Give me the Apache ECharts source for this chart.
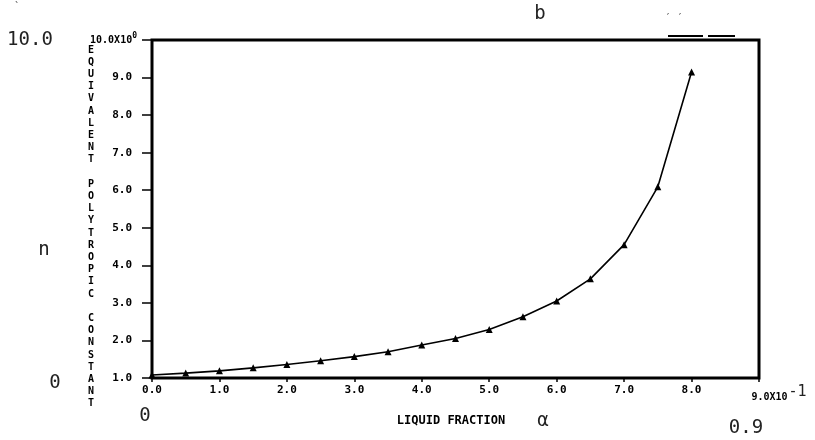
<!DOCTYPE html>
<html>
<head>
<meta charset="utf-8">
<script src="https://cdn.jsdelivr.net/npm/echarts@6/dist/echarts.min.js"></script>
<style>
  html, body { margin: 0; padding: 0; background: #fff; }
  #chart { width: 815px; height: 440px; }
</style>
</head>
<body>
<div id="chart"></div>
<script>
// liquid fraction (x 10^-1) and equivalent polytropic constant
const liquidFraction = [0, 0.5, 1.0, 1.5, 2.0, 2.5, 3.0, 3.5, 4.0, 4.5, 5.0, 5.5, 6.0, 6.5, 7.0, 7.5, 8.0]
const polyConstant = [1.08, 1.13, 1.19, 1.27, 1.36, 1.46, 1.57, 1.70, 1.88, 2.05, 2.29, 2.63, 3.05, 3.64, 4.55, 6.09, 9.15]
const xTickLabels = ['0.0', '1.0', '2.0', '3.0', '4.0', '5.0', '6.0', '7.0', '8.0', '9.0X10']
const yTickLabels = ['1.0', '2.0', '3.0', '4.0', '5.0', '6.0', '7.0', '8.0', '9.0', '10.0X10']
const yTitle = 'EQUIVALENT POLYTROPIC CONSTANT'

const plotFont = 'DejaVu Sans Mono'
const handFont = 'DejaVu Sans Mono'

const chart = echarts.init(document.getElementById('chart'))

const option = {
  animation: false,
  backgroundColor: '#fff',
  grid: {
    left: 152,
    right: 56,
    top: 40,
    bottom: 62,
    show: true,
    borderColor: '#000',
    borderWidth: 3,
  },
  xAxis: {
    type: 'value',
    min: 0,
    max: 9,
    interval: 1,
    axisLine: { show: false },
    axisTick: { show: true, length: 4, lineStyle: { color: '#000', width: 1.5 } },
    splitLine: { show: false },
    axisLabel: {
      margin: 7,
      color: '#000',
      formatter: function (v) {
        const lbl = xTickLabels[Math.round(v)]
        if (Math.round(v) === 9) return '{pad|' + lbl + '}{sup|-1}'
        return '{a|' + lbl + '}'
      },
      rich: {
        a: { fontFamily: plotFont, fontWeight: 'bold', fontSize: 11, color: '#000' },
        pad: { fontFamily: plotFont, fontWeight: 'bold', fontSize: 10, color: '#000', padding: [0, 0, 0, 40] },
        sup: { fontFamily: handFont, fontSize: 15, color: '#222', padding: [0, 0, 10, 1] },
      },
    },
  },
  yAxis: {
    type: 'value',
    min: 1,
    max: 10,
    interval: 1,
    axisLine: { show: false },
    axisTick: { show: true, length: 10, lineStyle: { color: '#000', width: 1.5 } },
    splitLine: { show: false },
    axisLabel: {
      margin: 15,
      color: '#000',
      formatter: function (v) {
        const lbl = yTickLabels[Math.round(v) - 1]
        if (Math.round(v) === 10) return '{t|' + lbl + '}{sup|0}'
        return '{a|' + lbl + '}{p|}'
      },
      rich: {
        a: { fontFamily: plotFont, fontWeight: 'bold', fontSize: 11, color: '#000' },
        t: { fontFamily: plotFont, fontWeight: 'bold', fontSize: 10, color: '#000' },
        p: { width: 5 },
        sup: { fontFamily: plotFont, fontWeight: 'bold', fontSize: 8, color: '#000', padding: [0, 0, 9, 0] },
      },
    },
  },
  series: [
    {
      type: 'line',
      data: liquidFraction.map((x, i) => [x, polyConstant[i]]),
      symbol: 'triangle',
      symbolSize: 7,
      showAllSymbol: true,
      lineStyle: { color: '#000', width: 1.6 },
      itemStyle: { color: '#000' },
    },
  ],
  graphic: [
    {
      type: 'text',
      style: {
        text: yTitle.split('').join('\n'),
        x: 91,
        y: 44,
        align: 'center',
        verticalAlign: 'top',
        font: 'bold 10px "' + plotFont + '"',
        lineHeight: 12.2,
        fill: '#000',
      },
    },
    {
      type: 'text',
      style: {
        text: 'LIQUID FRACTION',
        x: 451,
        y: 421,
        align: 'center',
        verticalAlign: 'middle',
        font: 'bold 12px "' + plotFont + '"',
        fill: '#000',
      },
    },
    { type: 'text', style: { text: '10.0', x: 30, y: 40, align: 'center', verticalAlign: 'middle', font: '19px "' + handFont + '"', fill: '#222' } },
    { type: 'text', style: { text: 'n', x: 44, y: 250, align: 'center', verticalAlign: 'middle', font: '19px "' + handFont + '"', fill: '#222' } },
    { type: 'text', style: { text: '0', x: 55, y: 383, align: 'center', verticalAlign: 'middle', font: '19px "' + handFont + '"', fill: '#222' } },
    { type: 'text', style: { text: '0', x: 145, y: 416, align: 'center', verticalAlign: 'middle', font: '19px "' + handFont + '"', fill: '#222' } },
    { type: 'text', style: { text: 'α', x: 543, y: 421, align: 'center', verticalAlign: 'middle', font: '19px "' + handFont + '"', fill: '#222' } },
    { type: 'text', style: { text: '0.9', x: 746, y: 428, align: 'center', verticalAlign: 'middle', font: '19px "' + handFont + '"', fill: '#222' } },
    { type: 'text', style: { text: 'b', x: 540, y: 14, align: 'center', verticalAlign: 'middle', font: '19px "' + handFont + '"', fill: '#222' } },
    { type: 'text', style: { text: '\u2032 \u2032', x: 674, y: 18, align: 'center', verticalAlign: 'middle', font: '10px "' + handFont + '"', fill: '#444' } },
    { type: 'text', style: { text: '`', x: 17, y: 7, align: 'center', verticalAlign: 'middle', font: '10px "' + handFont + '"', fill: '#444' } },
    { type: 'line', shape: { x1: 668, y1: 36, x2: 703, y2: 36 }, style: { stroke: '#000', lineWidth: 2 } },
    { type: 'line', shape: { x1: 708, y1: 36, x2: 735, y2: 36 }, style: { stroke: '#000', lineWidth: 2 } },
  ],
}

chart.setOption(option)
</script>
</body>
</html>
